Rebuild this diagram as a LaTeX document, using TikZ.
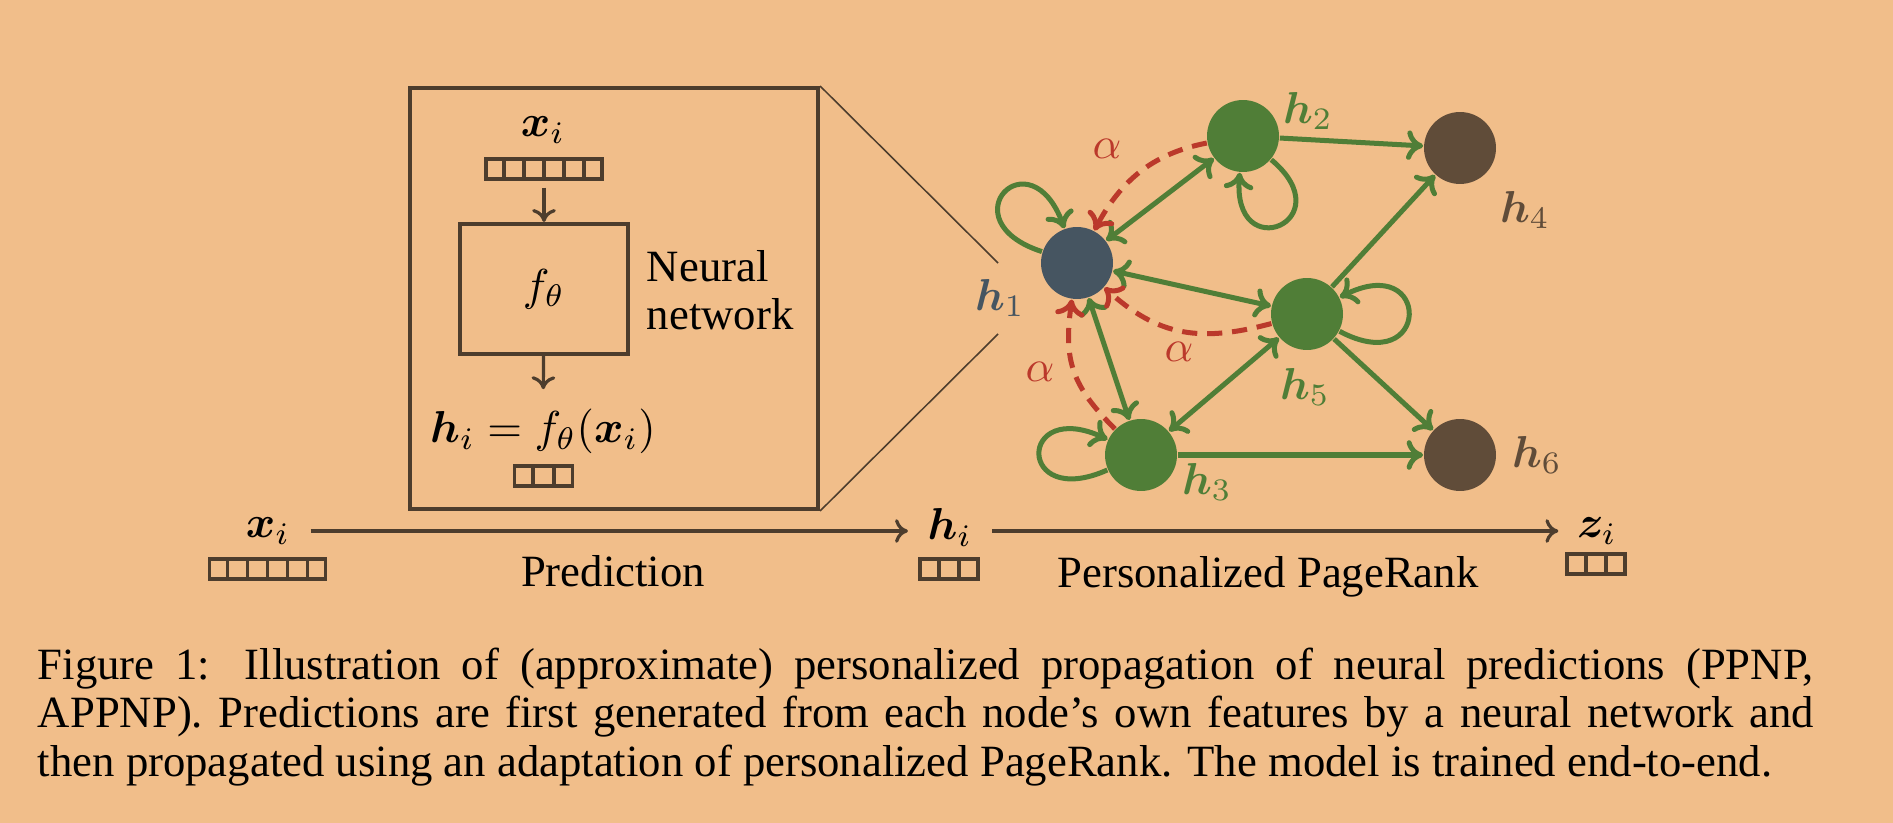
\documentclass[tikz,border=0pt]{standalone}
\usepackage{amsmath}
\usepackage{bm}
\usepackage[no-math]{fontspec}
\setmainfont{Liberation Serif}
\usetikzlibrary{arrows.meta,calc}
\definecolor{bg}{RGB}{241,190,138}
\definecolor{dbrown}{RGB}{77,61,45}
\definecolor{nblue}{RGB}{70,85,97}
\definecolor{ngreen}{RGB}{80,126,55}
\definecolor{nbrown}{RGB}{96,76,57}
\definecolor{ared}{RGB}{187,57,43}
\begin{document}
\begin{tikzpicture}[x=0.2237pt,y=-0.2237pt,
  font=\fontsize{10}{10.74}\selectfont,
  bigframe/.style={draw=dbrown, line width=0.88pt, inner sep=0},
  marr/.style={draw=dbrown, line width=0.72pt, -{To[length=2.9pt,width=5.3pt]}},
  vecbox/.style={draw=dbrown, line width=0.82pt, minimum height=4.47pt, inner sep=0},
  vecline/.style={draw=dbrown, line width=0.82pt},
  thinline/.style={draw=dbrown, line width=0.35pt},
  gnode/.style={circle, fill=ngreen, minimum size=16.1pt, inner sep=0},
  gedge/.style={draw=ngreen, line width=1.12pt, -{To[length=3.7pt,width=6.6pt]}},
  gboth/.style={draw=ngreen, line width=1.12pt, {To[length=3.7pt,width=6.6pt]}-{To[length=3.7pt,width=6.6pt]}},
  redarr/.style={draw=ared, line width=1.12pt, dash pattern=on 3.4pt off 2.2pt, -{To[length=3.7pt,width=6.6pt]}},
  lab/.style={inner sep=0}
]
\fill[bg] (0,0) rectangle (1893,823);
\useasboundingbox (0,0) rectangle (1893,823);

% ---------- zoomed neural network box ----------
\node[bigframe, minimum width=91.3pt, minimum height=94.2pt] (big) at (614,298.5) {};
\node[anchor=base] (xtop) at (543,137) {$\bm{x}_i$};
\node[vecbox, minimum width=25.95pt] (xv) at (544,169) {};
\foreach \k in {1,...,5}
  \draw[vecline] ($(xv.south west)!\k/6!(xv.south east)$) -- ($(xv.north west)!\k/6!(xv.north east)$);
\node[bigframe, minimum width=37.6pt, minimum height=29.1pt] (fbox) at (544,289) {$f_\theta$};
\node[anchor=west, align=left, inner sep=0] (nn) at (646,290) {Neural\\network};
\node[anchor=base] (heq) at (543,443) {$\bm{h}_i = f_\theta(\bm{x}_i)$};
\node[vecbox, minimum width=12.97pt] (hv) at (543.5,476) {};
\foreach \k in {1,2}
  \draw[vecline] ($(hv.south west)!\k/3!(hv.south east)$) -- ($(hv.north west)!\k/3!(hv.north east)$);
\draw[marr, shorten <=1.55pt] (xv) -- (fbox);
\draw[marr, shorten >=1pt] (fbox) -- (heq);

% zoom lines
\coordinate (zt) at (998,263);
\coordinate (zb) at (998,334);
\draw[thinline] (big.north east) -- (zt);
\draw[thinline] (big.south east) -- (zb);

% ---------- bottom pipeline ----------
\coordinate (arow) at (0,531);
\node[anchor=base, inner xsep=4.4pt, inner ysep=0] (xl) at (268,538) {$\bm{x}_i$};
\node[vecbox, minimum width=25.95pt] (xvb) at (267.5,569) {};
\foreach \k in {1,...,5}
  \draw[vecline] ($(xvb.south west)!\k/6!(xvb.south east)$) -- ($(xvb.north west)!\k/6!(xvb.north east)$);
\node[anchor=base, inner xsep=4.2pt, inner ysep=0] (hl) at (950,540) {$\bm{h}_i$};
\node[vecbox, minimum width=12.97pt] (hvb) at (949,569) {};
\foreach \k in {1,2}
  \draw[vecline] ($(hvb.south west)!\k/3!(hvb.south east)$) -- ($(hvb.north west)!\k/3!(hvb.north east)$);
\node[anchor=base, inner xsep=4pt, inner ysep=0] (zl) at (1597,538) {$\bm{z}_i$};
\node[vecbox, minimum width=12.97pt] (zvb) at (1596,564) {};
\foreach \k in {1,2}
  \draw[vecline] ($(zvb.south west)!\k/3!(zvb.south east)$) -- ($(zvb.north west)!\k/3!(zvb.north east)$);
\draw[marr] (xl.east |- arow) -- (hl.west |- arow);
\draw[marr] (hl.east |- arow) -- (zl.west |- arow);
\node[anchor=base] (pred) at (613,587) {Prediction};
\node[anchor=base] (ppr) at (1268,588) {Personalized PageRank};

% ---------- graph ----------
\node[gnode, fill=nblue] (h1) at (1077,263) {};
\node[gnode] (h2) at (1243,136) {};
\node[gnode, fill=nbrown] (h4) at (1460,148) {};
\node[gnode] (h5) at (1307,314) {};
\node[gnode] (h3) at (1141,455) {};
\node[gnode, fill=nbrown] (h6) at (1460,455) {};

\node[lab, text=nblue] (l1) at (1000,298) {$\bm{h}_1$};
\node[lab, text=ngreen] (l2) at (1308,111) {$\bm{h}_2$};
\node[lab, text=ngreen] (l3) at (1207,482) {$\bm{h}_3$};
\node[lab, text=nbrown] (l4) at (1525,210) {$\bm{h}_4$};
\node[lab, text=ngreen] (l5) at (1305,387) {$\bm{h}_5$};
\node[lab, text=nbrown] (l6) at (1537,455) {$\bm{h}_6$};

\draw[gboth] (h1) -- (h2);
\draw[gboth] (h1) -- (h5);
\draw[gboth] (h1) -- (h3);
\draw[gboth] (h3) -- (h5);
\draw[gedge] (h2) -- (h4);
\draw[gedge] (h5) -- (h4);
\draw[gedge] (h5) -- (h6);
\draw[gedge] (h3) -- (h6);

\draw[gedge] (h1) to[out=162,in=110,distance=22.5pt] (h1);
\draw[gedge] (h2) to[out=-40,in=-95,distance=21.3pt] (h2);
\draw[gedge] (h5) to[out=-28,in=27,distance=23.2pt] (h5);
\draw[gedge] (h3) to[out=204,in=155,distance=22.3pt] (h3);

\draw[redarr] (h2) to[out=191,in=62] (h1);
\draw[redarr] (h5) to[out=195,in=-42,looseness=1.1] (h1);
\draw[redarr] (h3) to[out=135,in=-98,looseness=1.15] (h1);
\node[lab, text=ared] (a1) at (1107,149) {$\alpha$};
\node[lab, text=ared] (a2) at (1179,352) {$\alpha$};
\node[lab, text=ared] (a3) at (1040,372) {$\alpha$};

% ---------- caption ----------
\node[anchor=north west, text width=397.3pt, align=justify, inner sep=0,
      font=\fontsize{10}{10.85}\selectfont] (cap) at (37,647)
  {Figure 1: Illustration of (approximate) personalized propagation of neural predictions (PPNP,\linebreak
   APPNP). Predictions are first generated from each node’s own features by a neural network and\linebreak
   then propagated using an adaptation of personalized PageRank. The model is trained end-to-end.};
\end{tikzpicture}
\end{document}
